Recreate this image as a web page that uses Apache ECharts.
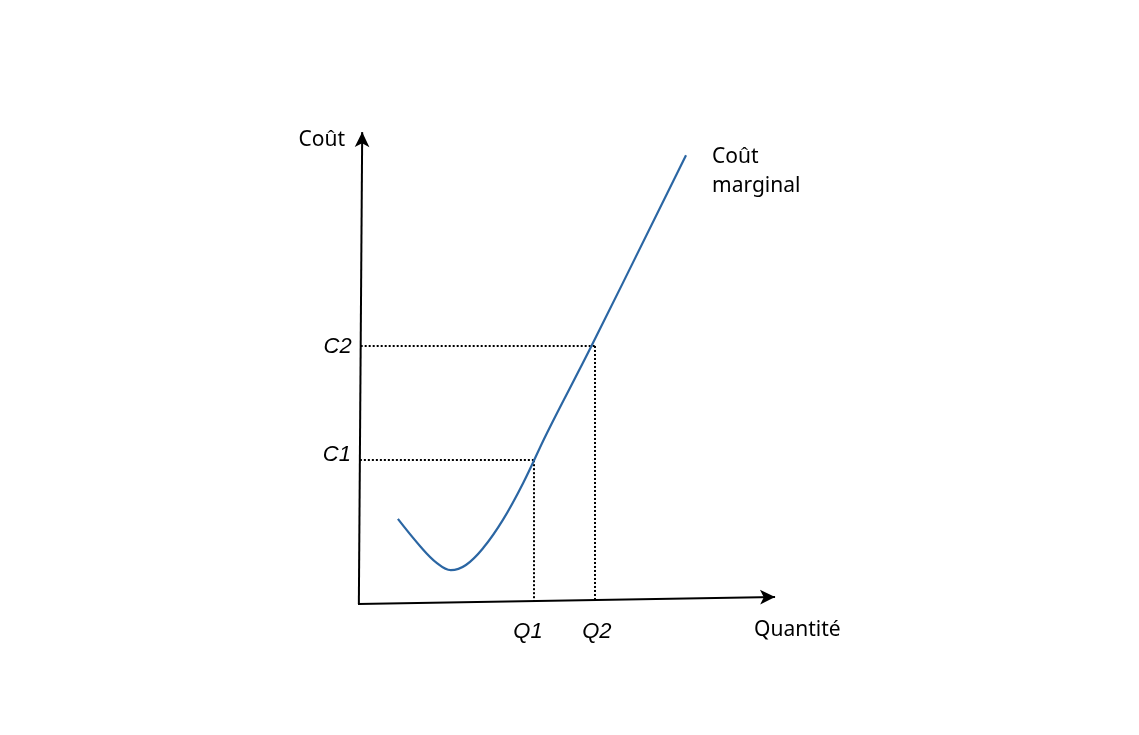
<!DOCTYPE html>
<html>
<head>
<meta charset="utf-8">
<script src="https://cdn.jsdelivr.net/npm/echarts@6/dist/echarts.min.js"></script>
<style>html,body{margin:0;padding:0;background:#fff}#c{width:1139px;height:735px}</style>
</head>
<body>
<div id="c"></div>
<script>
// Marginal cost curve (x = quantity, y = cost)
const curveX = [9.5, 14.8, 18.8, 22.1, 25.7, 29.8, 34.5, 39.3, 45.0, 55.7, 78.1];
const curveY = [18.1, 12.3, 8.7, 7.2, 8.3, 11.9, 17.9, 25.7, 36.4, 55.1, 95.5];
// Reference points
const qLabels = ['Q1', 'Q2'];
const qValues = [41.9, 56.4];
const cLabels = ['C1', 'C2'];
const cValues = [30.6, 54.9];
// Axis ends (hand-drawn, slightly tilted)
const yAxisStart = [0.2, 0];
const yAxisEnd = [1.0, 100.4];
const xAxisStart = [0, 0];
const xAxisEnd = [99.3, 1.5];
const axisTitles = ['Coût', 'Quantité'];
const curveName = 'Coût\nmarginal';

const chart = echarts.init(document.getElementById('c'));
const black = '#000';
const blue = '#2b66a3';
const dotted = { color: black, width: 2, type: [2, 2] };
const xAxisYAt = x => xAxisStart[1] + (xAxisEnd[1] - xAxisStart[1]) * (x - xAxisStart[0]) / (xAxisEnd[0] - xAxisStart[0]);
const yAxisXAt = y => yAxisStart[0] + (yAxisEnd[0] - yAxisStart[0]) * (y - yAxisStart[1]) / (yAxisEnd[1] - yAxisStart[1]);

const guideLines = [];
cValues.forEach((c, i) => {
  const q = qValues[i];
  guideLines.push([{ coord: [yAxisXAt(c), c] }, { coord: [q, c] }]);
  guideLines.push([{ coord: [q, c] }, { coord: [q, xAxisYAt(q)] }]);
});

const qOffsets = [-6, 2];
const cOffsets = [-5, 1];
const labelFont = { fontFamily: '"Liberation Sans", Arial, sans-serif', fontStyle: 'italic', fontSize: 22, color: black, opacity: 1 };
const titleFont = { fontFamily: '"Noto Sans", sans-serif', fontSize: 21, color: black, opacity: 1 };
const hidden = { opacity: 1, color: 'transparent' };

chart.setOption({
  animation: false,
  backgroundColor: '#fff',
  grid: { left: 274, top: 40, width: 588, height: 658 },
  xAxis: { type: 'value', min: -20, max: 120, show: false },
  yAxis: { type: 'value', min: -20, max: 120, show: false },
  series: [
    {
      type: 'line',
      data: curveX.map((x, i) => [x, curveY[i]]),
      smooth: 0.4,
      showSymbol: false,
      lineStyle: { color: blue, width: 2.2 },
      z: 5,
      markLine: {
        silent: true,
        symbol: 'none',
        label: { show: false },
        lineStyle: dotted,
        data: guideLines
      }
    },
    {
      type: 'line',
      data: [],
      markLine: {
        silent: true,
        symbol: ['none', 'arrow'],
        symbolSize: [11, 15],
        label: { show: false },
        lineStyle: { color: black, width: 2, type: 'solid' },
        data: [
          [{ coord: yAxisStart }, { coord: yAxisEnd }],
          [{ coord: xAxisStart }, { coord: xAxisEnd }]
        ]
      }
    },
    {
      type: 'scatter',
      symbolSize: 0,
      silent: true,
      itemStyle: hidden,
      data: qValues.map((q, i) => ({ value: [q, -6.0], label: { offset: [qOffsets[i], 0] } })),
      label: { show: true, position: 'inside', formatter: p => qLabels[p.dataIndex], ...labelFont }
    },
    {
      type: 'scatter',
      symbolSize: 0,
      silent: true,
      itemStyle: hidden,
      data: cValues.map((c, i) => ({ value: [yAxisXAt(c), c], label: { offset: [0, cOffsets[i]] } })),
      label: { show: true, position: 'left', distance: 9, formatter: p => cLabels[p.dataIndex], ...labelFont }
    },
    {
      type: 'scatter',
      symbolSize: 0,
      silent: true,
      itemStyle: hidden,
      data: [
        { value: [-3.1, 98.7], label: { position: 'left', distance: 0, formatter: axisTitles[0] } },
        { value: [94.3, -5.5], label: { position: 'right', distance: 0, formatter: axisTitles[1] } },
        { value: [84.3, 92.1], label: { position: 'right', distance: 0, lineHeight: 29, formatter: curveName } }
      ],
      label: { show: true, ...titleFont }
    }
  ]
});
</script>
</body>
</html>
